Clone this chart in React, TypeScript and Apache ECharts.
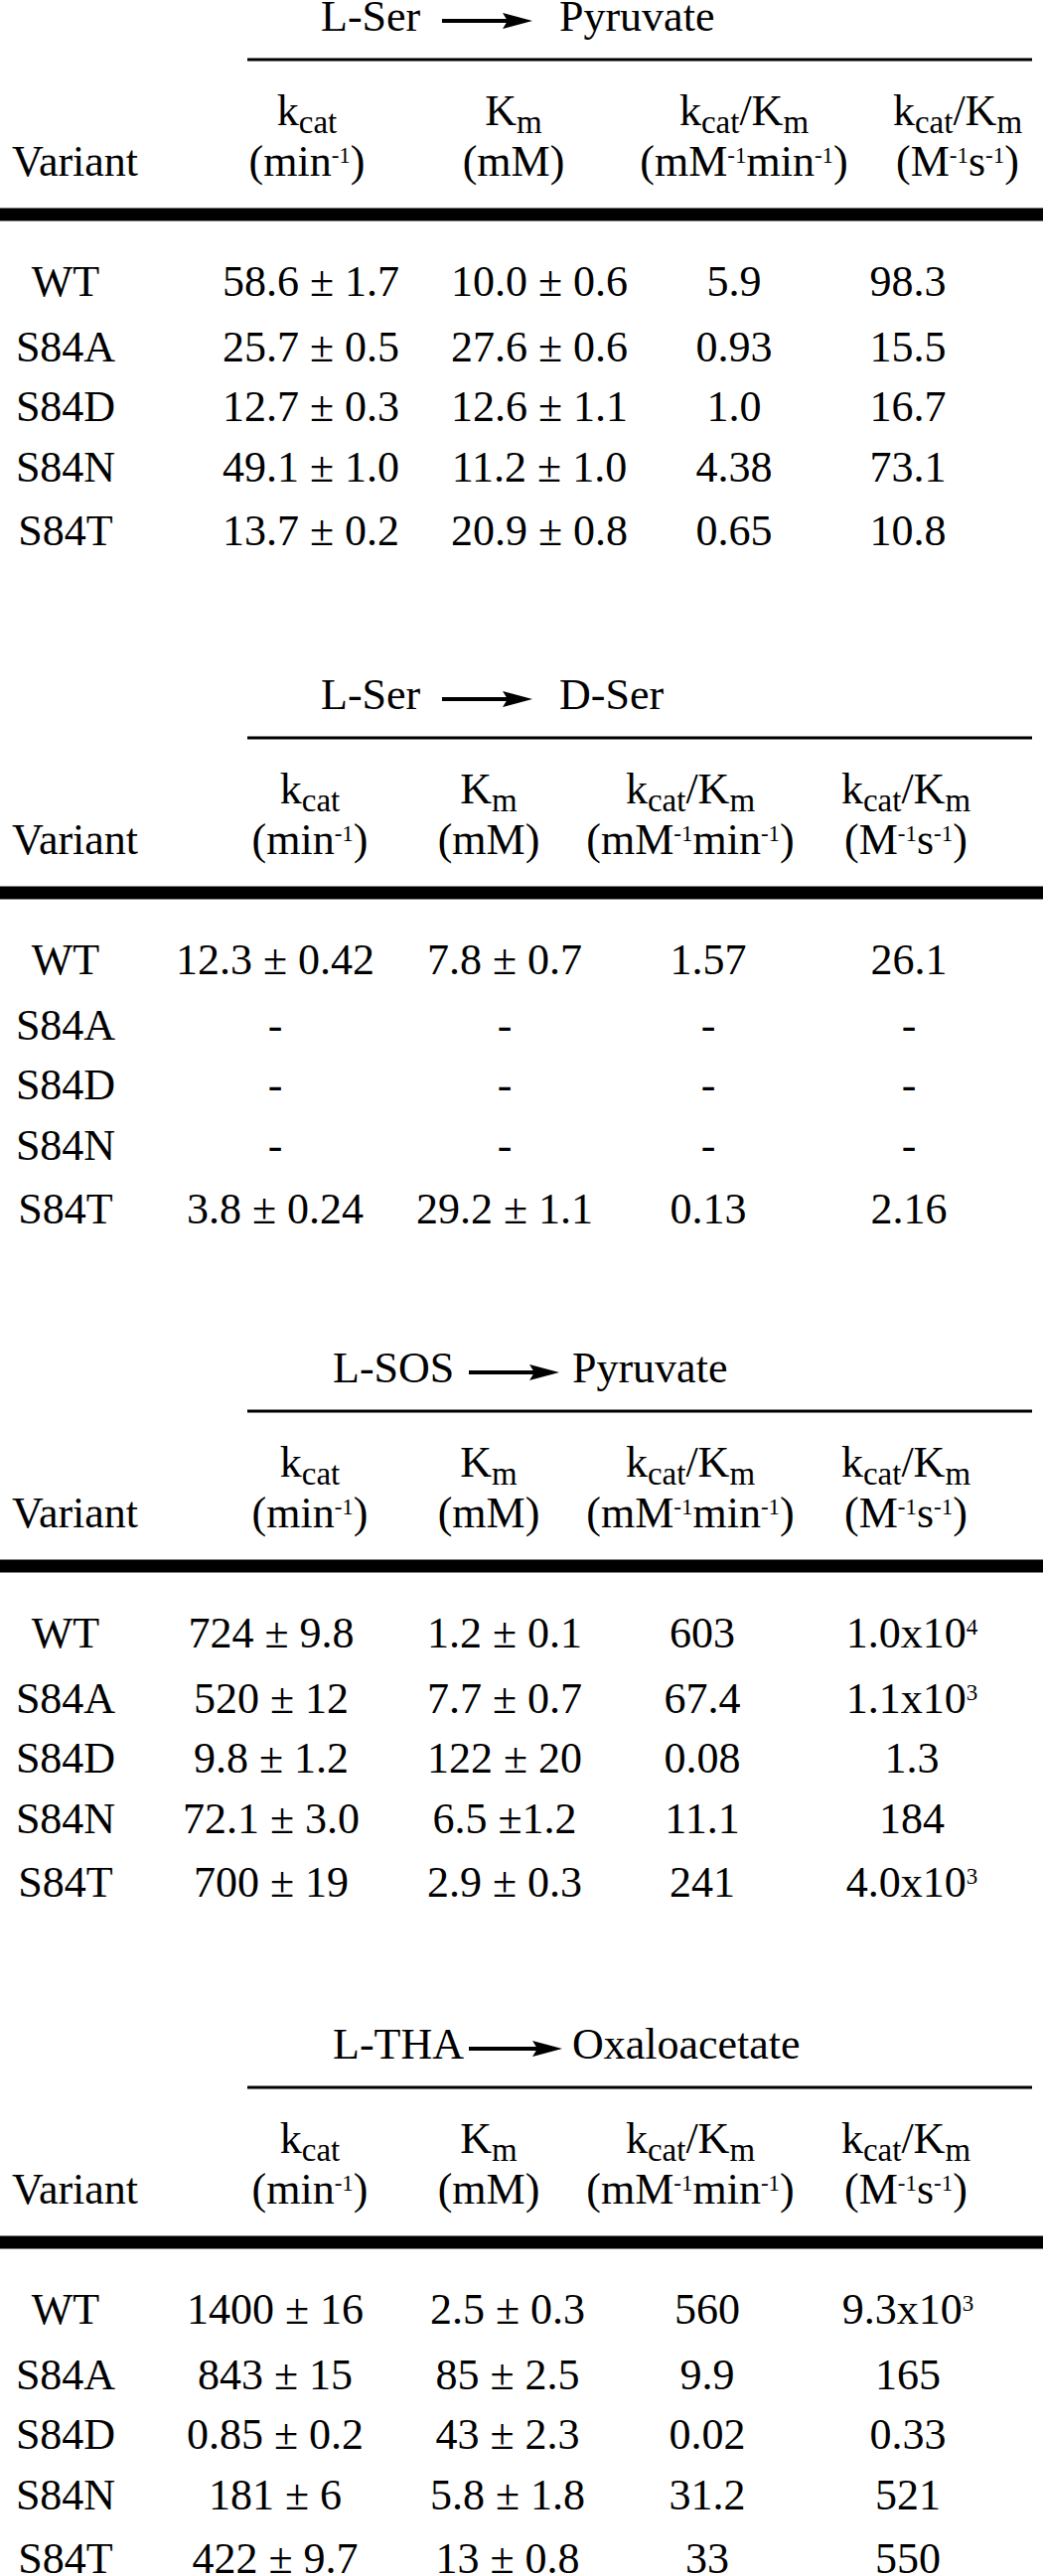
import React, { useEffect, useRef } from 'react';
import * as echarts from 'echarts';

// ---------------- data ----------------
const variants = ['WT', 'S84A', 'S84D', 'S84N', 'S84T'];
const reactionFrom = ['L-Ser', 'L-Ser', 'L-SOS', 'L-THA'];
const reactionTo = ['Pyruvate', 'D-Ser', 'Pyruvate', 'Oxaloacetate'];

const kcatLSerPyr = ['58.6 ± 1.7', '25.7 ± 0.5', '12.7 ± 0.3', '49.1 ± 1.0', '13.7 ± 0.2'];
const kmLSerPyr = ['10.0 ± 0.6', '27.6 ± 0.6', '12.6 ± 1.1', '11.2 ± 1.0', '20.9 ± 0.8'];
const effMmLSerPyr = ['5.9', '0.93', '1.0', '4.38', '0.65'];
const effMLSerPyr = ['98.3', '15.5', '16.7', '73.1', '10.8'];

const kcatLSerDSer = ['12.3 ± 0.42', '-', '-', '-', '3.8 ± 0.24'];
const kmLSerDSer = ['7.8 ± 0.7', '-', '-', '-', '29.2 ± 1.1'];
const effMmLSerDSer = ['1.57', '-', '-', '-', '0.13'];
const effMLSerDSer = ['26.1', '-', '-', '-', '2.16'];

const kcatLSosPyr = ['724 ± 9.8', '520 ± 12', '9.8 ± 1.2', '72.1 ± 3.0', '700 ± 19'];
const kmLSosPyr = ['1.2 ± 0.1', '7.7 ± 0.7', '122 ± 20', '6.5 ±1.2', '2.9 ± 0.3'];
const effMmLSosPyr = ['603', '67.4', '0.08', '11.1', '241'];
const effMLSosPyr = ['1.0x10^4', '1.1x10^3', '1.3', '184', '4.0x10^3'];

const kcatLThaOxa = ['1400 ± 16', '843 ± 15', '0.85 ± 0.2', '181 ± 6', '422 ± 9.7'];
const kmLThaOxa = ['2.5 ± 0.3', '85 ± 2.5', '43 ± 2.3', '5.8 ± 1.8', '13 ± 0.8'];
const effMmLThaOxa = ['560', '9.9', '0.02', '31.2', '33'];
const effMLThaOxa = ['9.3x10^3', '165', '0.33', '521', '550'];

const tables = [
  [kcatLSerPyr, kmLSerPyr, effMmLSerPyr, effMLSerPyr],
  [kcatLSerDSer, kmLSerDSer, effMmLSerDSer, effMLSerDSer],
  [kcatLSosPyr, kmLSosPyr, effMmLSosPyr, effMLSosPyr],
  [kcatLThaOxa, kmLThaOxa, effMmLThaOxa, effMLThaOxa],
];

type Seg = { t: string; k: 'n' | 'sub' | 'sup' };
const headerTop: Seg[][] = [
  [{ t: 'k', k: 'n' }, { t: 'cat', k: 'sub' }],
  [{ t: 'K', k: 'n' }, { t: 'm', k: 'sub' }],
  [{ t: 'k', k: 'n' }, { t: 'cat', k: 'sub' }, { t: '/K', k: 'n' }, { t: 'm', k: 'sub' }],
  [{ t: 'k', k: 'n' }, { t: 'cat', k: 'sub' }, { t: '/K', k: 'n' }, { t: 'm', k: 'sub' }],
];
const headerBottom: Seg[][] = [
  [{ t: '(min', k: 'n' }, { t: '-1', k: 'sup' }, { t: ')', k: 'n' }],
  [{ t: '(mM)', k: 'n' }],
  [{ t: '(mM', k: 'n' }, { t: '-1', k: 'sup' }, { t: 'min', k: 'n' }, { t: '-1', k: 'sup' }, { t: ')', k: 'n' }],
  [{ t: '(M', k: 'n' }, { t: '-1', k: 'sup' }, { t: 's', k: 'n' }, { t: '-1', k: 'sup' }, { t: ')', k: 'n' }],
];

// ---------------- layout ----------------
const W = 1050;
const H = 2594;
const FONT = '"Liberation Serif", "Times New Roman", Times, serif';
const FS = { n: 44, sub: 33, sup: 23 };
const SHIFT = { n: 0, sub: 8, sup: -13 };
const CENTRAL = 0.3375;

const ruleY = [216, 899, 1577, 2258];
const headerX = [
  [309, 517, 749, 964],
  [312, 492, 695, 912],
  [312, 492, 695, 912],
  [312, 492, 695, 912],
];
const dataX = [
  [313, 543, 739, 914],
  [277, 508, 713, 915],
  [273, 508, 707, 918],
  [277, 511, 712, 914],
];
const titleX = [
  [323, 445, 536, 563],
  [323, 445, 536, 563],
  [335, 472, 563, 576],
  [335, 472, 566, 576],
];
const rowOffsets = [67, 133, 193, 254, 318];

let ctx: CanvasRenderingContext2D | null = null;
function measure(t: string, fs: number): number {
  if (!ctx) ctx = document.createElement('canvas').getContext('2d');
  if (!ctx) return t.length * fs * 0.5;
  ctx.font = `${fs}px ${FONT}`;
  return ctx.measureText(t).width;
}

function parseValue(s: string): Seg[] {
  if (s.includes('^')) {
    const [b, e] = s.split('^');
    return [{ t: b, k: 'n' }, { t: e, k: 'sup' }];
  }
  return [{ t: s, k: 'n' }];
}

function compose(segs: Seg[], x: number, baseline: number, align: 'center' | 'left'): any[] {
  const widths = segs.map((s) => measure(s.t, FS[s.k]));
  const total = widths.reduce((a, b) => a + b, 0);
  let cx = align === 'center' ? x - total / 2 : x;
  const out: any[] = [];
  segs.forEach((s, i) => {
    const fs = FS[s.k];
    const bl = baseline + SHIFT[s.k];
    out.push({
      type: 'text',
      x: cx,
      y: bl - CENTRAL * fs,
      silent: true,
      style: {
        text: s.t,
        fontSize: fs,
        fontFamily: FONT,
        fill: '#000',
        align: 'left',
        verticalAlign: 'middle',
      },
    });
    cx += widths[i];
  });
  return out;
}

function buildElements(): any[] {
  const els: any[] = [];
  tables.forEach((cols, ti) => {
    const R = ruleY[ti];
    const [fromX, arrowX1, arrowX2, toX] = titleX[ti];
    const titleBase = R - 185;
    els.push(...compose([{ t: reactionFrom[ti], k: 'n' }], fromX, titleBase, 'left'));
    els.push(...compose([{ t: reactionTo[ti], k: 'n' }], toX, titleBase, 'left'));
    const ay = R - 195;
    els.push({
      type: 'line',
      silent: true,
      shape: { x1: arrowX1, y1: ay, x2: arrowX2 - 24, y2: ay },
      style: { stroke: '#000', lineWidth: 4 },
    });
    els.push({
      type: 'polygon',
      silent: true,
      shape: { points: [[arrowX2 - 30, ay - 8], [arrowX2, ay], [arrowX2 - 30, ay + 8], [arrowX2 - 25, ay]] },
      style: { fill: '#000' },
    });
    // thin rule under the reaction title
    els.push({ type: 'rect', silent: true, shape: { x: 249, y: R - 157.5, width: 790, height: 3 }, style: { fill: '#000' } });
    // thick rule under the header
    els.push({ type: 'rect', silent: true, shape: { x: 0, y: R - 6.5, width: W, height: 13 }, style: { fill: '#000' } });
    // header
    els.push(...compose([{ t: 'Variant', k: 'n' }], 12, R - 39, 'left'));
    headerTop.forEach((segs, ci) => {
      els.push(...compose(segs, headerX[ti][ci], R - 90, 'center'));
    });
    headerBottom.forEach((segs, ci) => {
      els.push(...compose(segs, headerX[ti][ci], R - 39, 'center'));
    });
    // rows
    variants.forEach((v, ri) => {
      const base = R + rowOffsets[ri] + CENTRAL * FS.n;
      els.push(...compose([{ t: v, k: 'n' }], 66, base, 'center'));
      cols.forEach((col, ci) => {
        els.push(...compose(parseValue(col[ri]), dataX[ti][ci], base, 'center'));
      });
    });
  });
  return els;
}

export default function App() {
  const ref = useRef<HTMLDivElement>(null);
  useEffect(() => {
    document.body.style.margin = '0';
    if (!ref.current) return;
    const chart = echarts.init(ref.current, undefined, { renderer: 'svg' });
    chart.setOption({
      animation: false,
      backgroundColor: '#ffffff',
      graphic: { elements: buildElements() },
    });
    return () => chart.dispose();
  }, []);
  return <div ref={ref} style={{ width: W, height: H }} />;
}
